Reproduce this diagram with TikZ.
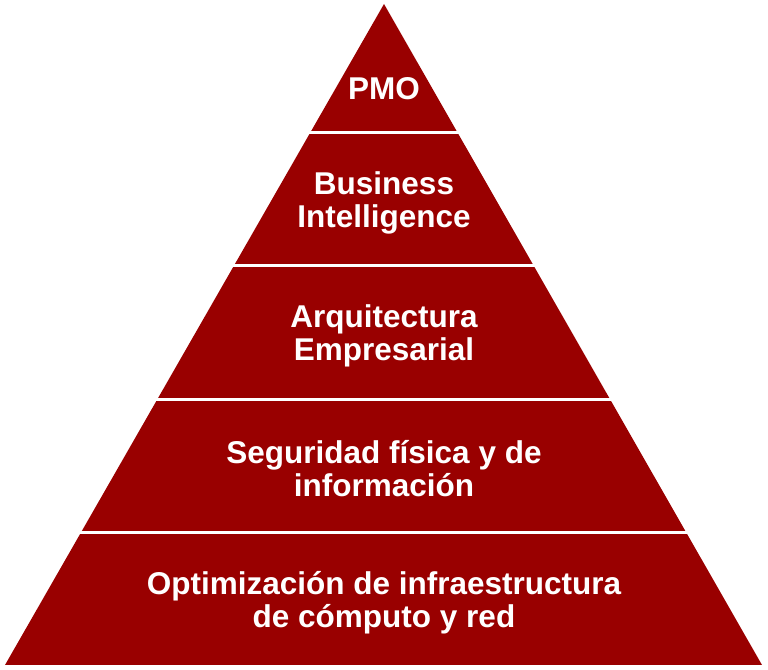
\documentclass[tikz,border=0pt]{standalone}
\usepackage{fontspec}
\setmainfont{Liberation Sans}
\definecolor{pyrred}{RGB}{153,0,0}
\begin{document}
\begin{tikzpicture}[
    x=1pt, y=1pt,
    lvl/.style={fill=pyrred, draw=none},
    gap/.style={draw=white, line width=3pt},
    lbl/.style={font=\bfseries\fontsize{31.5}{33}\selectfont, text=white, align=center}
]
    \useasboundingbox (0,0) rectangle (768,669);
    \fill[lvl] (5,4) -- (762,4) -- (384,665) -- cycle;
    \draw[gap] (0,536) -- (768,536);
    \draw[gap] (0,403) -- (768,403);
    \draw[gap] (0,269) -- (768,269);
    \draw[gap] (0,136) -- (768,136);

    \node[lbl] (pmo) at (384,580) {PMO};
    \node[lbl] (bi) at (384,466) {Business\\Intelligence};
    \node[lbl] (ae) at (384,333) {Arquitectura\\Empresarial};
    \node[lbl] (seg) at (384,200) {Seguridad física y de\\información};
    \node[lbl] (opt) at (384,66) {Optimización de infraestructura\\de cómputo y red};
\end{tikzpicture}
\end{document}
